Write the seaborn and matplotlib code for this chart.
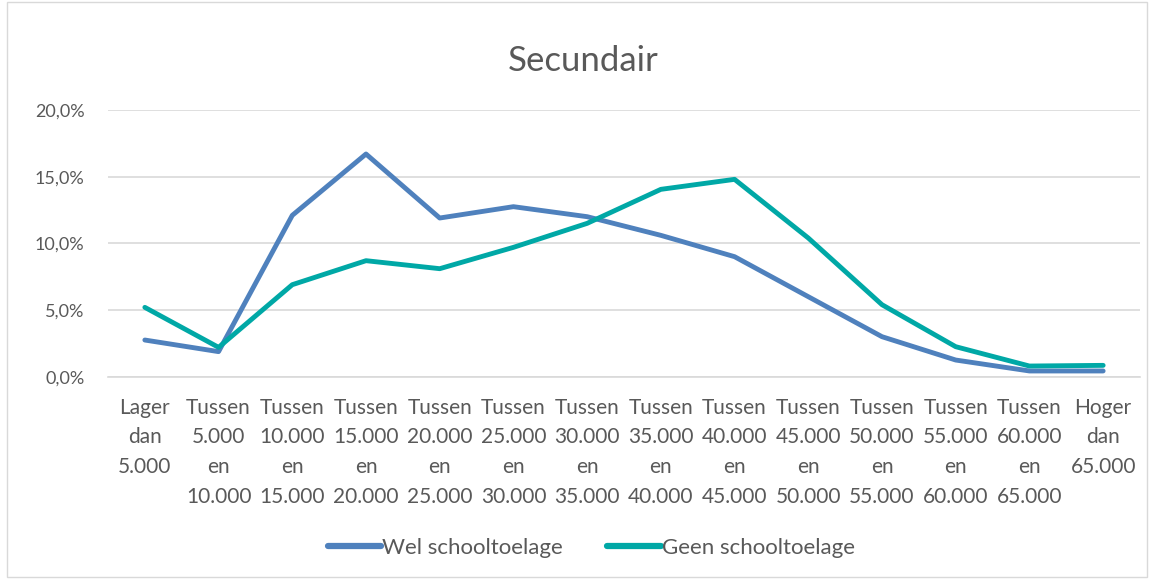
import matplotlib
matplotlib.use("Agg")
import matplotlib.pyplot as plt
import seaborn as sns
import pandas as pd
from matplotlib.patches import Rectangle
from matplotlib.ticker import FuncFormatter, MultipleLocator

categories = [
    "Lager\ndan\n5.000",
    "Tussen\n5.000\nen\n10.000",
    "Tussen\n10.000\nen\n15.000",
    "Tussen\n15.000\nen\n20.000",
    "Tussen\n20.000\nen\n25.000",
    "Tussen\n25.000\nen\n30.000",
    "Tussen\n30.000\nen\n35.000",
    "Tussen\n35.000\nen\n40.000",
    "Tussen\n40.000\nen\n45.000",
    "Tussen\n45.000\nen\n50.000",
    "Tussen\n50.000\nen\n55.000",
    "Tussen\n55.000\nen\n60.000",
    "Tussen\n60.000\nen\n65.000",
    "Hoger\ndan\n65.000",
]
wel = [2.75, 1.88, 12.1, 16.7, 11.9, 12.75, 12.0, 10.6, 9.0, 6.0, 3.0, 1.25, 0.43, 0.43]
geen = [5.2, 2.2, 6.9, 8.7, 8.1, 9.7, 11.5, 14.05, 14.8, 10.4, 5.4, 2.25, 0.8, 0.85]
series_names = ["Wel schooltoelage", "Geen schooltoelage"]
colors = ["#4F81BD", "#00A8A6"]

sns.set_theme(style="white")
plt.rcParams["font.family"] = ["Lato", "DejaVu Sans"]

rows = []
for name, vals in zip(series_names, [wel, geen]):
    for i, v in enumerate(vals):
        rows.append({"x": i, "y": v / 100.0, "serie": name})
df = pd.DataFrame(rows)

fig = plt.figure(figsize=(11.57, 5.79), dpi=100)
ax = fig.add_axes([108 / 1157, 1 - 376.7 / 579, (1140 - 108) / 1157, (376.7 - 110) / 579])

sns.lineplot(data=df, x="x", y="y", hue="serie", palette=colors, linewidth=3.5,
             ax=ax, legend=True)
for line in ax.get_lines():
    line.set_solid_capstyle("round")
    line.set_solid_joinstyle("round")

ax.set_xlim(-0.5, len(categories) - 0.5)
ax.set_ylim(0, 0.2)
ax.yaxis.set_major_locator(MultipleLocator(0.05))
ax.yaxis.set_major_formatter(FuncFormatter(lambda v, p: f"{v*100:.1f}%".replace(".", ",")))
ax.set_xticks(range(len(categories)))
ax.set_xticklabels(categories, linespacing=1.62)
ax.tick_params(axis="x", length=0, pad=15, labelsize=15, colors="#595959")
ax.tick_params(axis="y", length=0, pad=17, labelsize=13, colors="#595959")
ax.grid(axis="y", color="#D9D9D9", linewidth=1.2)
ax.grid(axis="x", visible=False)
for s in ["top", "right", "left"]:
    ax.spines[s].set_visible(False)
ax.spines["bottom"].set_color("#D9D9D9")
ax.spines["bottom"].set_linewidth(1.2)
ax.set_xlabel("")
ax.set_ylabel("")

handles, labels = ax.get_legend_handles_labels()
ax.legend_.remove()
leg = fig.legend(handles, labels, loc="center", bbox_to_anchor=(0.511, 1 - 548 / 579),
                 ncol=2, frameon=False, fontsize=16, handlelength=2.4, columnspacing=2.0,
                 handletextpad=0.05)
for t in leg.get_texts():
    t.set_color("#595959")
for h in leg.get_lines():
    h.set_linewidth(4.5)

fig.text(0.504, 1 - 61 / 579, "Secundair", ha="center", va="center", fontsize=25, color="#595959")

fig.patches.append(Rectangle((7 / 1157, 2 / 579), 1140 / 1157, 575 / 579, transform=fig.transFigure,
                             fill=False, edgecolor="#D9D9D9", linewidth=1))

fig.savefig("out.png", dpi=100)
